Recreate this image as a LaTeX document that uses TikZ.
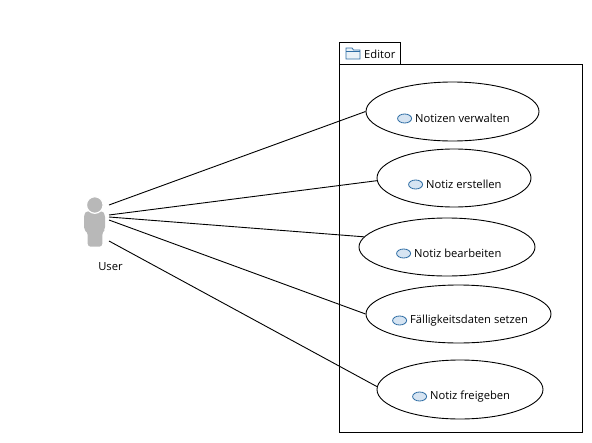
\documentclass[tikz,border=0pt]{standalone}
\usepackage{fontspec}
\setmainfont{Open Sans}
\usetikzlibrary{shapes.geometric,positioning}
\definecolor{iconblue}{RGB}{46,109,164}
\definecolor{iconfill}{RGB}{214,228,242}
\definecolor{actorgray}{RGB}{184,184,184}
\tikzset{
  usecase/.style={draw,ellipse,inner sep=0pt,line width=0.9pt},
  uclabel/.style={inner sep=0pt,font=\fontsize{11.2}{13}\selectfont},
  ucicon/.style={draw=iconblue,fill=iconfill,ellipse,inner sep=0pt,minimum width=14pt,minimum height=9pt,line width=0.8pt},
  assoc/.style={line width=0.9pt}
}
\begin{document}
\begin{tikzpicture}[x=1pt,y=-1pt]
\useasboundingbox (0,0) rectangle (592,442);
\draw[line width=0.9pt] (339.3,64.5) rectangle (582,432.5);
\draw[line width=0.9pt] (339.3,64.5) -- (339.3,42.3) -- (400.7,42.3) -- (400.7,64.5);
\draw[iconblue,fill=iconfill!50,line width=0.8pt] (346,59) -- (346,48) -- (352,48) -- (353.5,50) -- (360,50) -- (360,59) -- cycle;
\draw[iconblue,line width=0.8pt] (346,51.5) -- (360,51.5);
\node[uclabel,anchor=west] (editor) at (364,54.5) {Editor};
\fill[actorgray,rounded corners=3pt] (84,230) -- (84,214) -- (87,211) -- (102,211) -- (105,214) -- (105,230) -- (102.3,232) -- (102.3,246.7) -- (87.7,246.7) -- (87.7,232) -- cycle;
\filldraw[fill=actorgray,draw=white,line width=1.2pt] (94.8,205) circle (8.3);
\node[uclabel] (user) at (110.5,266.5) {User};
\node[usecase,minimum width=173pt,minimum height=59pt] (uc1) at (452.5,111.5) {};
\node[usecase,minimum width=154pt,minimum height=58pt] (uc2) at (454,178) {};
\node[usecase,minimum width=176pt,minimum height=58pt] (uc3) at (447,247) {};
\node[usecase,minimum width=185pt,minimum height=58pt] (uc4) at (458.5,314) {};
\node[usecase,minimum width=166pt,minimum height=59pt] (uc5) at (460,389.5) {};
\node[uclabel,anchor=west] (lab1) at (415,118.5) {Notizen verwalten};
\node[uclabel,anchor=west] (lab2) at (426,184.5) {Notiz erstellen};
\node[uclabel,anchor=west] (lab3) at (414,253.5) {Notiz bearbeiten};
\node[uclabel,anchor=west] (lab4) at (410,320.5) {Fälligkeitsdaten setzen};
\node[uclabel,anchor=west] (lab5) at (430,396.5) {Notiz freigeben};
\foreach \i in {1,...,5}
  \node[ucicon,left=3pt of lab\i.west] (icon\i) {};
\coordinate (a1) at (109,205);
\coordinate (a2) at (109,215);
\coordinate (a3) at (109,217);
\coordinate (a4) at (109,220);
\coordinate (a5) at (109,241);
\draw[assoc] (a1) -- (uc1.west);
\draw[assoc] (a2) -- (uc2.182);
\draw[assoc] (a3) -- (uc3.173);
\draw[assoc] (a4) -- (uc4.west);
\draw[assoc] (a5) -- (uc5.178);
\end{tikzpicture}
\end{document}
